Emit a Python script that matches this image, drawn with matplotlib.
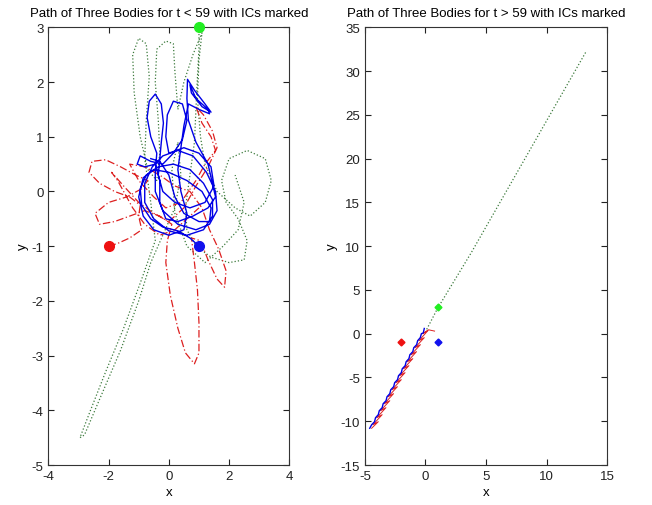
import matplotlib
matplotlib.use("Agg")
import matplotlib.pyplot as plt

# left panel: paths for t < 59
green_x = [1.0, 1.0, 0.95, 0.9, 0.85, 0.7, 0.55, 0.6, 0.9, 1.4, 2.0, 2.5, 2.6, 2.3, 1.9, 1.75,
           2.0, 2.6, 3.2, 3.4, 3.2, 2.7, 2.2, 1.6, 1.2, 1.05, 0.95, 1.0, 1.1, 0.8, 0.5, 0.3,
           0.2, 0.15, -0.1, -0.4, -0.45, -0.35, -0.3, -0.4, -0.7, -0.95, -1.15, -1.2, -1.0,
           -0.75, -0.65, -0.75, -0.8, -0.6, -0.45, -0.9, -1.5, -2.1, -2.6, -2.95, -2.8, -2.3,
           -1.6, -1.0, -0.6, -0.2, 0.2, 0.4, 0.3, 0.1, 0.2, 0.6, 1.2, 1.8, 2.3, 2.5, 2.2]
green_y = [3.0, 2.6, 2.1, 1.5, 0.9, 0.3, -0.3, -0.7, -1.0, -1.2, -1.3, -1.25, -0.9, -0.5, -0.2,
           0.2, 0.6, 0.75, 0.6, 0.2, -0.2, -0.45, -0.3, 0.0, 0.5, 1.0, 1.7, 2.4, 2.9, 2.5, 2.0,
           1.5, 2.2, 2.7, 2.75, 2.6, 2.0, 1.3, 0.7, 0.2, 0.4, 1.0, 1.8, 2.5, 2.8, 2.7, 2.1,
           1.3, 0.6, -0.2, -0.9, -1.6, -2.5, -3.3, -4.0, -4.5, -4.45, -3.8, -2.9, -2.0, -1.3,
           -0.8, -0.3, 0.3, 0.9, 0.4, -0.4, -1.0, -1.3, -1.0, -0.7, -0.2, 0.3]

red_x = [-2.0, -1.7, -1.3, -0.9, -1.0, -0.95, -1.3, -1.8, -2.3, -2.65, -2.55, -2.1, -1.6, -1.1,
         -0.7, -0.9, -1.4, -2.0, -2.45, -2.3, -1.8, -1.3, -0.8, -0.3, 0.1, -0.05, -0.1, 0.05,
         0.3, 0.55, 0.85, 1.0, 1.0, 0.95, 0.85, 0.75, 1.05, 1.3, 1.6, 1.85, 1.9, 1.65, 1.35,
         1.1, 0.7, 0.2, -0.3, -0.8, -1.3, -1.0, -0.5, -0.1, 0.4, 0.9, 1.2, 1.55, 1.4, 1.1, 0.9,
         1.15, 1.45, 1.6, 1.3, 0.9, 0.5, 0.0, -0.5, -1.0, -1.5, -1.9, -1.7, -1.2, -0.8, -0.3,
         0.2, 0.6, 1.0]
red_y = [-1.0, -0.95, -0.85, -0.7, -0.45, -0.25, -0.1, 0.0, 0.15, 0.35, 0.55, 0.58, 0.45, 0.3,
         0.2, 0.05, -0.1, -0.2, -0.4, -0.6, -0.55, -0.45, -0.35, -0.45, -0.6, -0.9, -1.3, -1.9,
         -2.5, -2.95, -3.15, -2.95, -2.4, -1.8, -1.3, -0.85, -0.9, -1.25, -1.6, -1.75, -1.45,
         -1.05, -0.7, -0.3, 0.0, 0.1, 0.3, 0.45, 0.5, 0.2, -0.1, -0.3, -0.2, 0.2, 0.5, 0.75,
         1.0, 1.25, 1.55, 1.4, 1.1, 0.8, 0.45, 0.1, -0.3, -0.55, -0.4, -0.2, 0.1, 0.35, 0.2,
         -0.3, -0.6, -0.8, -0.7, -0.5, -0.3]

blue_x = [1.0, 0.7, 0.3, -0.2, -0.6, -0.9, -0.95, -0.75, -0.35, 0.15, 0.7, 1.15, 1.45, 1.45,
          1.15, 0.6, 0.0, -0.5, -0.8, -0.8, -0.55, -0.2, 0.3, 0.8, 1.25, 1.55, 1.6, 1.35, 0.9,
          0.3, -0.2, -0.45, -0.45, -0.4, -0.6, -0.72, -0.65, -0.45, -0.25, -0.18, -0.25, -0.3,
          -0.35, -0.2, 0.2, 0.7, 1.2, 1.5, 1.4, 1.0, 0.5, 0.0, -0.1, -0.05, 0.15, 0.45, 0.6,
          0.45, 0.15, -0.2, -0.6, -0.95, -1.05, -0.8, -0.45, -0.3, -0.3, -0.1, 0.3, 0.8, 1.3,
          1.55, 1.3, 0.9, 0.65, 0.6, 0.62, 0.85, 1.2, 1.4, 1.1, 0.75, 0.7, 0.9, 1.3, 1.35, 1.0,
          0.65, 0.5, 0.4, 0.3, 0.4, 0.6, 0.5, 0.0, -0.5, -0.85, -1.0, -0.85, -0.5, 0.0, 0.6,
          1.1, 1.4, 1.35, 1.0, 0.5, 0.2, 0.0, -0.3, -0.6]
blue_y = [-1.0, -0.85, -0.72, -0.65, -0.5, -0.25, 0.05, 0.3, 0.45, 0.5, 0.4, 0.15, -0.15,
          -0.45, -0.7, -0.8, -0.72, -0.5, -0.2, 0.15, 0.45, 0.65, 0.75, 0.65, 0.35, 0.0, -0.35,
          -0.6, -0.7, -0.6, -0.35, 0.0, 0.35, 0.7, 1.0, 1.35, 1.65, 1.78, 1.6, 1.25, 0.9, 0.6,
          0.3, 0.0, -0.2, -0.3, -0.2, 0.1, 0.45, 0.7, 0.8, 0.7, 1.0, 1.4, 1.65, 1.6, 1.3, 0.95,
          0.7, 0.5, 0.55, 0.65, 0.5, 0.45, 0.5, 0.2, -0.2, -0.5, -0.55, -0.45, -0.3, -0.1, 0.5,
          0.9, 1.3, 1.7, 2.05, 1.85, 1.6, 1.45, 1.55, 1.8, 1.95, 1.7, 1.5, 1.42, 1.5, 1.6, 1.2,
          0.8, 0.4, 0.0, -0.4, -0.7, -0.8, -0.7, -0.45, -0.1, 0.25, 0.4, 0.35, 0.2, 0.0, -0.3,
          -0.55, -0.55, -0.4, -0.1, 0.3, 0.55, 0.6]

# right panel: paths for t > 59
green2_x = [0.1, 1.0, 3.8, 13.3]
green2_y = [0.5, 2.9, 9.3, 32.3]

red2_x = [0.75, 0.25, -0.24, 0.2, -0.55, -0.1, -0.87, -0.42, -1.19, -0.74, -1.5, -1.05, -1.82,
          -1.37, -2.14, -1.69, -2.45, -2.0, -2.77, -2.32, -3.09, -2.64, -3.4, -2.95, -3.72,
          -3.27, -4.03, -3.58, -4.35, -3.9, -4.45]
red2_y = [0.3, 0.45, 0.0, 0.35, -0.8, -0.45, -1.6, -1.25, -2.4, -2.05, -3.2, -2.85, -4.0,
          -3.65, -4.8, -4.45, -5.6, -5.25, -6.4, -6.05, -7.2, -6.85, -8.0, -7.65, -8.8, -8.45,
          -9.6, -9.25, -10.4, -10.05, -10.8]

blue2_x = [-0.1, -0.18, -0.34, -0.43, -0.65, -0.73, -0.97, -1.05, -1.29, -1.37, -1.6, -1.68,
           -1.92, -2.0, -2.23, -2.31, -2.55, -2.63, -2.87, -2.95, -3.18, -3.26, -3.5, -3.58,
           -3.82, -3.9, -4.13, -4.21, -4.45, -4.61]
blue2_y = [0.6, 0.1, 0.0, -0.45, -0.8, -1.25, -1.6, -2.05, -2.4, -2.85, -3.2, -3.65, -4.0,
           -4.45, -4.8, -5.25, -5.6, -6.05, -6.4, -6.85, -7.2, -7.65, -8.0, -8.45, -8.8, -9.25,
           -9.6, -10.05, -10.4, -10.8]

# initial conditions
ic_x = [-2, 1, 1]
ic_y = [-1, -1, 3]
ic_colors = ["#ee1111", "#1111ee", "#22ee22"]

GREEN = "#3c7a3c"
RED = "#dd2020"
BLUE = "#0000e6"
DASHDOT = (0, (6, 2, 1, 2))

plt.rcParams["font.family"] = ["Liberation Sans", "DejaVu Sans"]
plt.rcParams["font.size"] = 9.5
plt.rcParams["axes.unicode_minus"] = False

fig = plt.figure(figsize=(6.52, 5.06), dpi=100)
ax1 = fig.add_axes([0.0741, 0.079, 0.3697, 0.865])
ax2 = fig.add_axes([0.5598, 0.079, 0.3712, 0.865])

ax1.plot(green_x, green_y, color=GREEN, linestyle=":", linewidth=0.9)
ax1.plot(red_x, red_y, color=RED, linestyle=DASHDOT, linewidth=0.9)
ax1.plot(blue_x, blue_y, color=BLUE, linestyle="-", linewidth=1.0)
for x, y, c in zip(ic_x, ic_y, ic_colors):
    ax1.plot(x, y, "o", color=c, markersize=7, markeredgecolor=c, clip_on=False, zorder=5)

ax2.plot(green2_x, green2_y, color=GREEN, linestyle=":", linewidth=0.9)
ax2.plot(red2_x, red2_y, color=RED, linestyle="-", linewidth=0.7)
ax2.plot(blue2_x, blue2_y, color=BLUE, linestyle="-", linewidth=1.0)
for x, y, c in zip(ic_x, ic_y, ic_colors):
    ax2.plot(x, y, "D", color=c, markersize=3.5, markeredgecolor=c, zorder=5)

ax1.set_xlim(-4, 4)
ax1.set_ylim(-5, 3)
ax1.set_xticks(range(-4, 5, 2))
ax1.set_yticks(range(-5, 4))
ax1.set_title("Path of Three Bodies for t < 59 with ICs marked", fontsize=9.5, pad=8)

ax2.set_xlim(-5, 15)
ax2.set_ylim(-15, 35)
ax2.set_xticks(range(-5, 16, 5))
ax2.set_yticks(range(-15, 36, 5))
ax2.set_title("Path of Three Bodies for t > 59 with ICs marked", fontsize=9.5, pad=8)

for ax in (ax1, ax2):
    ax.set_xlabel("x", labelpad=3)
    ax.set_ylabel("y", labelpad=2)
    ax.tick_params(direction="in", top=True, right=True, length=4, width=0.8,
                   labelsize=9.5, colors="#222222")
    for s in ax.spines.values():
        s.set_linewidth(0.8)
        s.set_color("#333333")

fig.savefig("out.png", dpi=100, facecolor="white")
